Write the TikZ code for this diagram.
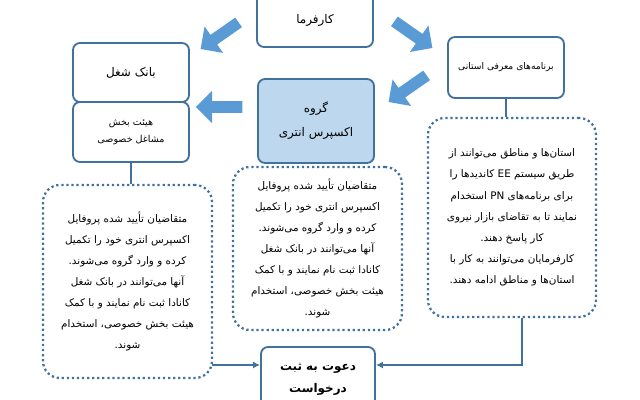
\documentclass[tikz,border=0pt]{standalone}
\usepackage{fontspec}
\TeXXeTstate=1
\newfontfamily\arabicfont[Script=Arabic]{DejaVu Sans}
\usetikzlibrary{shapes.arrows,arrows.meta}
\definecolor{bl}{HTML}{41729F}
\definecolor{ab}{HTML}{5B9BD5}
\definecolor{lb}{HTML}{BDD7EE}
\newcommand{\R}[1]{\beginR #1\endR}
\tikzset{
 x=0.025cm,y=-0.025cm,
 solidbox/.style={draw=bl,line width=1.3pt,rounded corners=5pt,fill=white,align=center,inner sep=2pt,font=\arabicfont\fontsize{7.5}{12}\selectfont},
 dotbox/.style={draw=bl,line width=1.6pt,dotted,rounded corners=12pt,fill=white,align=center,inner sep=2pt,font=\arabicfont\fontsize{7.4}{15}\selectfont},
 fatarrow/.style={single arrow,draw=none,fill=ab,minimum height=33pt,minimum width=23pt,single arrow head extend=3pt,inner sep=1.5pt},
 conn/.style={draw=bl,line width=1.2pt},
 connarr/.style={conn,-{Latex[length=5pt,width=5pt]}}
}
\begin{document}
\begin{tikzpicture}
\useasboundingbox (0,0) rectangle (640,400);
\node[solidbox,minimum width=116*0.025cm,minimum height=54*0.025cm,font=\arabicfont\fontsize{8.5}{12}\selectfont] (emp) at (315,20) {\R{کارفرما}};
\node[solidbox,minimum width=116*0.025cm,minimum height=59*0.025cm,font=\arabicfont\fontsize{8.5}{12}\selectfont] (bank) at (131,72.5) {\R{بانک شغل}};
\node[solidbox,minimum width=116*0.025cm,minimum height=60*0.025cm,font=\arabicfont\fontsize{6.8}{12}\selectfont] (hey) at (131,132) {\R{هیئت بخش}\\\R{مشاغل خصوصی}};
\node[solidbox,minimum width=116*0.025cm,minimum height=61*0.025cm,font=\arabicfont\fontsize{6.5}{12}\selectfont] (pnp) at (506,67.5) {\R{برنامه‌های معرفی استانی}};
\node[solidbox,fill=lb,minimum width=116*0.025cm,minimum height=84*0.025cm,font=\arabicfont\fontsize{8.5}{17}\selectfont] (ee) at (316,121) {\R{گروه}\\\R{اکسپرس انتری}};
\node[dotbox,minimum width=169*0.025cm,minimum height=193*0.025cm] (ld) at (127.5,281.5) {\R{متقاضیان تأیید شده پروفایل}\\\R{اکسپرس انتری خود را تکمیل}\\\R{کرده و وارد گروه می‌شوند.}\\\R{آنها می‌توانند در بانک شغل}\\\R{کانادا ثبت نام نمایند و با کمک}\\\R{هیئت بخش خصوصی، استخدام}\\\R{شوند.}};
\node[dotbox,minimum width=169*0.025cm,minimum height=163*0.025cm] (md) at (317.5,248.5) {\R{متقاضیان تأیید شده پروفایل}\\\R{اکسپرس انتری خود را تکمیل}\\\R{کرده و وارد گروه می‌شوند.}\\\R{آنها می‌توانند در بانک شغل}\\\R{کانادا ثبت نام نمایند و با کمک}\\\R{هیئت بخش خصوصی، استخدام}\\\R{شوند.}};
\node[dotbox,minimum width=168*0.025cm,minimum height=199*0.025cm] (rd) at (512,217.5) {\R{استان‌ها و مناطق می‌توانند از}\\\R{طریق سیستم \beginL EE\endL{} کاندیدها را}\\\R{برای برنامه‌های \beginL PN\endL{} استخدام}\\\R{نمایند تا به تقاضای بازار نیروی}\\\R{کار پاسخ دهند.}\\\R{کارفرمایان می‌توانند به کار با}\\\R{استان‌ها و مناطق ادامه دهند.}};
\node[solidbox,minimum width=114*0.025cm,minimum height=65*0.025cm,font=\arabicfont\bfseries\fontsize{8.5}{16}\selectfont] (inv) at (318,379.5) {\R{دعوت به ثبت}\\\R{درخواست}};
% connectors
\draw[conn] (hey.south) -- (ld.north -| hey.south);
\draw[conn] (pnp.south) -- (rd.north -| pnp.south);
\coordinate (lc) at (212,365);
\draw[connarr] (lc) -- (inv.west |- lc);
\coordinate (rc) at (522,365);
\draw[connarr] (rd.south -| rc) -- (rc) -- (inv.east |- rc);
% fat arrows
\node[fatarrow,rotate=-145] (a1) at (222,34) {};
\node[fatarrow,rotate=-35] (a2) at (411,33) {};
\node[fatarrow,rotate=-145] (a3) at (410,87) {};
\node[fatarrow,rotate=180] (a4) at (222,107) {};
\end{tikzpicture}
\end{document}
